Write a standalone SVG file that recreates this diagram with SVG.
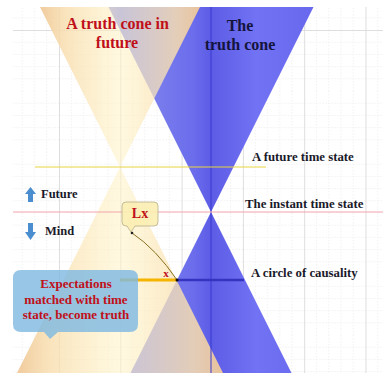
<svg xmlns="http://www.w3.org/2000/svg" width="383" height="373" viewBox="0 0 383 373">
  <style>
    .lbl { font-family: "Liberation Serif", "Times New Roman", serif; font-weight: bold; }
    .dark { fill: #1a1a2a; }
    .red { fill: #c0101a; }
    .navy { fill: #14143c; }
  </style>
  <defs>
    <pattern id="grid" patternUnits="userSpaceOnUse" x="-2.3" y="30" width="61.3" height="61">
      <g stroke="#ededed" stroke-width="0.8" stroke-dasharray="1.5 1.5">
        <line x1="12.26" y1="0" x2="12.26" y2="61"/>
        <line x1="24.52" y1="0" x2="24.52" y2="61"/>
        <line x1="36.78" y1="0" x2="36.78" y2="61"/>
        <line x1="49.04" y1="0" x2="49.04" y2="61"/>
        <line x1="0" y1="12.2" x2="61.3" y2="12.2"/>
        <line x1="0" y1="24.4" x2="61.3" y2="24.4"/>
        <line x1="0" y1="36.6" x2="61.3" y2="36.6"/>
        <line x1="0" y1="48.8" x2="61.3" y2="48.8"/>
      </g>
      <g stroke="#dedede" stroke-width="1">
        <line x1="0.5" y1="0" x2="0.5" y2="61"/>
        <line x1="0" y1="0.5" x2="61.3" y2="0.5"/>
      </g>
    </pattern>
    <linearGradient id="blueG" gradientUnits="userSpaceOnUse" x1="108" y1="0" x2="314" y2="0">
      <stop offset="0" stop-color="#8c92ec"/>
      <stop offset="0.42" stop-color="#6a6cec"/>
      <stop offset="0.5" stop-color="#5c5ce6"/>
      <stop offset="0.72" stop-color="#7272f4"/>
      <stop offset="1" stop-color="#6868ee"/>
    </linearGradient>
    <linearGradient id="yelG" x1="0" y1="0" x2="1" y2="0">
      <stop offset="0" stop-color="#f0c898" stop-opacity="0.95"/>
      <stop offset="0.15" stop-color="#f8deb0" stop-opacity="0.85"/>
      <stop offset="0.5" stop-color="#fff3c6" stop-opacity="0.55"/>
      <stop offset="0.85" stop-color="#f8deb0" stop-opacity="0.85"/>
      <stop offset="1" stop-color="#f0c898" stop-opacity="0.95"/>
    </linearGradient>
  </defs>

  <rect x="0" y="0" width="383" height="373" fill="#ffffff"/>
  <rect x="13" y="7" width="370" height="366" fill="url(#grid)"/>

  <g id="truth-cone">
    <polygon points="108.5,7 313.5,7 211,212" fill="url(#blueG)"/>
    <polygon points="211,212 291.5,373 130.5,373" fill="url(#blueG)"/>
  </g>

  <g id="future-cone">
    <polygon points="40,7 200,7 120,167" fill="url(#yelG)"/>
    <polygon points="120,167 223,373 17,373" fill="url(#yelG)"/>
  </g>

  <g id="connectors">
    <line x1="211" y1="7" x2="211" y2="373" stroke="#3a3ad0" stroke-width="1"/>
    <line x1="35" y1="167" x2="266" y2="167" stroke="#e8d440" stroke-width="1.2"/>
    <line x1="13" y1="212" x2="383" y2="212" stroke="#f0a4ac" stroke-width="1"/>
    <line x1="120" y1="280" x2="177" y2="280" stroke="#f5b400" stroke-width="3"/>
    <line x1="177" y1="280" x2="244" y2="280" stroke="#3434c0" stroke-width="2.5"/>
    <path d="M132,233 Q156,249 177,280" fill="none" stroke="#8a7222" stroke-width="1"/>
    <circle cx="177" cy="280" r="1.5" fill="#111"/>
  </g>

  <g id="title-future-cone">
    <text class="lbl red" x="117.5" y="29" font-size="16" text-anchor="middle">A truth cone in</text>
    <text class="lbl red" x="117" y="48" font-size="16" text-anchor="middle">future</text>
  </g>

  <g id="title-truth-cone">
    <text class="lbl navy" x="240" y="31" font-size="16" text-anchor="middle">The</text>
    <text class="lbl navy" x="240" y="50" font-size="16" text-anchor="middle">truth cone</text>
  </g>

  <g id="label-future-time-state">
    <text class="lbl dark" x="252" y="161" font-size="12.8">A future time state</text>
  </g>
  <g id="label-instant-time-state">
    <text class="lbl dark" x="245" y="208" font-size="12.8">The instant time state</text>
  </g>
  <g id="label-circle-causality">
    <text class="lbl dark" x="251" y="277" font-size="12.8">A circle of causality</text>
  </g>

  <g id="future-indicator">
    <polygon points="30.5,187 36,194 33,194 33,202 28,202 28,194 25,194" fill="#4a8ed0"/>
    <text class="lbl dark" x="41" y="198" font-size="12.5">Future</text>
  </g>

  <g id="mind-indicator">
    <polygon points="28,223 33,223 33,232 36,232 30.5,240 25,232 28,232" fill="#4a8ed0"/>
    <text class="lbl dark" x="45" y="235" font-size="12.5">Mind</text>
  </g>

  <g id="lx-callout">
    <path d="M126,202 H154 Q158,202 158,206 V222 Q158,226 154,226 H135 L131,232 L127,226 H126 Q122,226 122,222 V206 Q122,202 126,202 Z" fill="#fbeeb2" fill-opacity="0.9" stroke="#b8ad8a" stroke-width="0.8"/>
    <circle cx="132" cy="233" r="1.3" fill="#222"/>
    <text class="lbl red" x="140" y="218" font-size="14" text-anchor="middle">Lx</text>
  </g>

  <g id="x-point">
    <text class="lbl red" x="166" y="277" font-size="11" text-anchor="middle">x</text>
  </g>

  <g id="expectations-callout">
    <path d="M21,270 H130 Q138,270 138,278 V324 Q138,332 130,332 H58 L50,339 L44,332 H21 Q13,332 13,324 V278 Q13,270 21,270 Z" fill="#80b9e2" fill-opacity="0.82"/>
    <text class="lbl red" x="76" y="288" font-size="13" text-anchor="middle">Expectations</text>
    <text class="lbl red" x="76" y="304" font-size="13" text-anchor="middle">matched with time</text>
    <text class="lbl red" x="76" y="319" font-size="13" text-anchor="middle">state, become truth</text>
  </g>
</svg>
